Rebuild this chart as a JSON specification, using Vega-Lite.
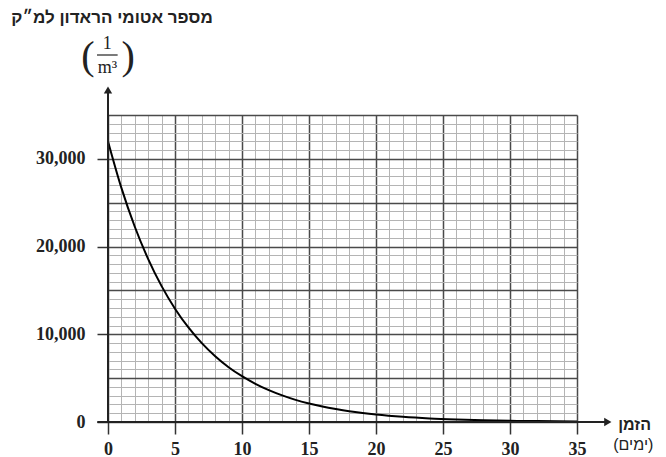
{
  "$schema": "https://vega.github.io/schema/vega-lite/v6.json",
  "width": 469,
  "height": 307,
  "autosize": {"type": "none"},
  "padding": {"left": 108, "top": 115, "right": 89, "bottom": 35},
  "background": "white",
  "config": {"view": {"stroke": null}},
  "resolve": {"axis": {"x": "independent", "y": "independent"}},
  "data": {"values": [
    {"t": 0, "n": 32000}, {"t": 1, "n": 26690}, {"t": 2, "n": 22260}, {"t": 3, "n": 18570},
    {"t": 4, "n": 15490}, {"t": 5, "n": 12920}, {"t": 6, "n": 10780}, {"t": 7, "n": 8990},
    {"t": 8, "n": 7500}, {"t": 9, "n": 6250}, {"t": 10, "n": 5220}, {"t": 11, "n": 4350},
    {"t": 12, "n": 3630}, {"t": 13, "n": 3030}, {"t": 14, "n": 2520}, {"t": 15, "n": 2110},
    {"t": 16, "n": 1760}, {"t": 17, "n": 1470}, {"t": 18, "n": 1220}, {"t": 19, "n": 1020},
    {"t": 20, "n": 850}, {"t": 22, "n": 590}, {"t": 24, "n": 410}, {"t": 26, "n": 290},
    {"t": 28, "n": 200}, {"t": 30, "n": 140}, {"t": 32, "n": 100}, {"t": 35, "n": 60}
  ]},
  "layer": [
    {
      "mark": {"type": "line", "color": "black", "strokeWidth": 2, "interpolate": "monotone"},
      "encoding": {
        "x": {
          "field": "t", "type": "quantitative",
          "scale": {"domain": [0, 35], "nice": false, "zero": false},
          "axis": {
            "title": null, "domain": false,
            "values": [0,1,2,3,4,5,6,7,8,9,10,11,12,13,14,15,16,17,18,19,20,21,22,23,24,25,26,27,28,29,30,31,32,33,34,35],
            "grid": true,
            "gridColor": {"condition": {"test": "datum.value % 5 === 0", "value": "#4a4a4a"}, "value": "#b4b4b4"},
            "gridWidth": {"condition": {"test": "datum.value % 5 === 0", "value": 1.5}, "value": 1},
            "ticks": true, "tickSize": 12, "tickColor": "#333", "tickWidth": 1.5,
            "tickOpacity": {"condition": {"test": "datum.value % 5 === 0", "value": 1}, "value": 0},
            "labelExpr": "datum.value % 5 === 0 ? datum.label : ''",
            "labelFont": "Liberation Serif", "labelFontWeight": "bold", "labelFontSize": 18,
            "labelColor": "#222", "labelPadding": 6, "labelFlush": false, "labelOverlap": false
          }
        },
        "y": {
          "field": "n", "type": "quantitative",
          "scale": {"domain": [0, 35000], "nice": false},
          "axis": {
            "title": null, "domain": false,
            "values": [0,1000,2000,3000,4000,5000,6000,7000,8000,9000,10000,11000,12000,13000,14000,15000,16000,17000,18000,19000,20000,21000,22000,23000,24000,25000,26000,27000,28000,29000,30000,31000,32000,33000,34000,35000],
            "grid": true,
            "gridColor": {"condition": {"test": "datum.value % 5000 === 0", "value": "#4a4a4a"}, "value": "#b4b4b4"},
            "gridWidth": {"condition": {"test": "datum.value % 5000 === 0", "value": 1.5}, "value": 1},
            "ticks": true, "tickSize": 11, "tickColor": "#333", "tickWidth": 1.5,
            "tickOpacity": {"condition": {"test": "datum.value % 10000 === 0", "value": 1}, "value": 0},
            "labelExpr": "datum.value % 10000 === 0 ? format(datum.value, ',') : ''",
            "labelFont": "Liberation Serif", "labelFontWeight": "bold", "labelFontSize": 18,
            "labelColor": "#222", "labelPadding": 12, "labelOverlap": false
          }
        }
      }
    },
    {
      "data": {"values": [{}]},
      "mark": {"type": "rule", "color": "#222", "strokeWidth": 2},
      "encoding": {"x": {"datum": -0.8, "axis": null}, "x2": {"datum": 37.1}, "y": {"datum": 0, "axis": null}}
    },
    {
      "data": {"values": [{}]},
      "mark": {"type": "rule", "color": "#222", "strokeWidth": 2},
      "encoding": {"x": {"datum": 0, "axis": null}, "y": {"datum": 0, "axis": null}, "y2": {"datum": 37600}}
    },
    {
      "data": {"values": [{}]},
      "mark": {"type": "point", "shape": "triangle-right", "filled": true, "color": "#222", "size": 70, "opacity": 1},
      "encoding": {"x": {"datum": 37.3, "axis": null}, "y": {"datum": 0, "axis": null}}
    },
    {
      "data": {"values": [{}]},
      "mark": {"type": "point", "shape": "triangle-up", "filled": true, "color": "#222", "size": 70, "opacity": 1},
      "encoding": {"x": {"datum": 0, "axis": null}, "y": {"datum": 37850, "axis": null}}
    },
    {
      "data": {"values": [{}]},
      "mark": {"type": "text", "font": "Liberation Sans", "fontWeight": "bold", "fontSize": 17, "color": "#222", "align": "center", "baseline": "middle"},
      "encoding": {"x": {"datum": 0.3, "axis": null}, "y": {"datum": 46050, "axis": null}, "text": {"value": "מספר אטומי הראדון למ״ק"}}
    },
    {
      "data": {"values": [{}]},
      "mark": {"type": "text", "font": "Liberation Serif", "fontSize": 18, "color": "#222", "align": "center", "baseline": "middle"},
      "encoding": {"x": {"datum": -0.05, "axis": null}, "y": {"datum": 43150, "axis": null}, "text": {"value": "1"}}
    },
    {
      "data": {"values": [{}]},
      "mark": {"type": "text", "font": "Liberation Serif", "fontSize": 18, "color": "#222", "align": "center", "baseline": "middle"},
      "encoding": {"x": {"datum": -0.05, "axis": null}, "y": {"datum": 40400, "axis": null}, "text": {"value": "m³"}}
    },
    {
      "data": {"values": [{}]},
      "mark": {"type": "rule", "color": "#222", "strokeWidth": 1.2},
      "encoding": {"x": {"datum": -0.82, "axis": null}, "x2": {"datum": 0.72}, "y": {"datum": 41840, "axis": null}}
    },
    {
      "data": {"values": [{}]},
      "mark": {"type": "text", "font": "Liberation Serif", "fontSize": 40, "color": "#222", "align": "center", "baseline": "middle"},
      "encoding": {"x": {"datum": -1.5, "axis": null}, "y": {"datum": 41600, "axis": null}, "text": {"value": "("}}
    },
    {
      "data": {"values": [{}]},
      "mark": {"type": "text", "font": "Liberation Serif", "fontSize": 40, "color": "#222", "align": "center", "baseline": "middle"},
      "encoding": {"x": {"datum": 1.5, "axis": null}, "y": {"datum": 41600, "axis": null}, "text": {"value": ")"}}
    },
    {
      "data": {"values": [{}]},
      "mark": {"type": "text", "font": "Liberation Sans", "fontWeight": "bold", "fontSize": 16, "color": "#222", "align": "center", "baseline": "middle"},
      "encoding": {"x": {"datum": 39.3, "axis": null}, "y": {"datum": -340, "axis": null}, "text": {"value": "הזמן"}}
    },
    {
      "data": {"values": [{}]},
      "mark": {"type": "text", "font": "Liberation Sans", "fontSize": 16, "color": "#222", "align": "center", "baseline": "middle"},
      "encoding": {"x": {"datum": 39.2, "axis": null}, "y": {"datum": -2620, "axis": null}, "text": {"value": "(ימים)"}}
    }
  ]
}
